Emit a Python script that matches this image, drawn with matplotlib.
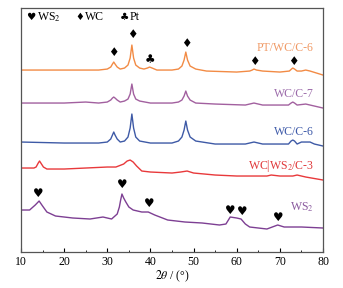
import matplotlib
matplotlib.use('Agg')
import matplotlib.pyplot as plt
from matplotlib.ticker import MultipleLocator

plt.rcParams['font.family'] = ['Liberation Serif', 'DejaVu Sans']
plt.rcParams['mathtext.fontset'] = 'stix'

# 2theta positions and intensities (arb. units, stacked)
x_pt = [10, 20, 28, 30, 30.8, 31.2, 31.5, 31.8, 32.3, 33, 34, 34.8, 35.3, 35.7, 36.1, 36.6, 37.5,
        38.5, 39.3, 39.8, 40.4, 41.5, 45, 46.5, 47.3, 47.8, 48.2, 48.6, 49.2, 50.5, 53, 60, 63,
        63.6, 64, 64.6, 66, 70, 72.2, 72.7, 73, 73.4, 74, 75, 76, 77, 80]
y_pt = [182, 182, 182, 183, 185, 188, 190, 188, 185, 183, 184, 187, 194, 207, 194, 187, 184,
        183, 184, 185, 184, 182, 182, 183, 186, 192, 200, 192, 186, 183, 181, 180, 181,
        182, 183, 182, 181, 180, 181, 183, 184, 183, 181, 181, 182, 181, 177]

x_wc7 = [10, 20, 25, 28, 30, 30.8, 31.2, 31.5, 31.8, 32.3, 33, 34, 34.8, 35.3, 35.7, 36.1, 36.6,
         37.5, 40, 45, 46.5, 47.3, 47.8, 48.2, 48.6, 49.2, 50.5, 55, 62, 64, 66, 72, 72.6, 73,
         73.4, 74, 76, 78, 80]
y_wc7 = [149, 149, 150, 149, 150, 152, 154, 155, 154, 152, 150, 151, 153, 158, 168, 158, 153,
         151, 149, 149, 150, 152, 156, 161, 156, 152, 149, 148, 147, 149, 147, 147, 149, 150,
         149, 147, 148, 146, 144]

x_wc6 = [10, 20, 28, 30, 30.8, 31.2, 31.5, 31.8, 32.3, 33, 34, 34.8, 35.3, 35.7, 36.1, 36.6,
         37.5, 40, 45, 46.5, 47.3, 47.8, 48.2, 48.6, 49.2, 50.5, 55, 62, 64, 66, 72, 72.6, 73,
         73.4, 74, 75, 77, 78, 80]
y_wc6 = [110, 109, 109, 110, 113, 117, 120, 117, 113, 110, 111, 115, 124, 138, 124, 115,
         111, 109, 109, 111, 115, 122, 131, 122, 115, 111, 108, 108, 110, 108, 108, 111, 112,
         111, 108, 110, 110, 108, 106]

x_wcws = [10, 13, 13.5, 14, 14.3, 14.6, 15.2, 16, 20, 25, 30, 32, 33.8, 34.6, 35.3, 36, 36.8,
          38, 40, 45, 47, 48.5, 50, 55, 60, 67, 68, 70, 73, 74, 76, 80]
y_wcws = [84, 84, 85, 89, 91, 89, 85, 83, 83, 84, 85, 85, 88, 91, 92, 90, 86,
          81, 80, 79, 80, 81, 79, 77, 76, 76, 77, 76, 76, 77, 75, 72]

x_ws2 = [10, 12, 13.3, 14.2, 15, 16, 18, 22, 26, 29, 31, 32.3, 32.8, 33.1, 33.4, 33.8, 34.3,
         35, 36, 38, 39.5, 41, 44, 48, 52, 56, 57.5, 58.5, 60, 61, 62, 63, 67, 69.5, 71, 75, 80]
y_ws2 = [42, 42, 47, 51, 46, 40, 36, 34, 33, 35, 33, 38, 45, 52, 58, 54, 50,
         45, 42, 40, 40, 37, 32, 30, 29, 27, 28, 35, 34, 33, 28, 25, 23, 27, 25, 25, 24]

labels = ['PT/WC/C-6', 'WC/C-7', 'WC/C-6', r'WC|WS$_2$/C-3', r'WS$_2$']
label_y = [204, 158, 120, 86, 45]
line_colors = ['#F28B45', '#A2609F', '#3E5AA6', '#E8393B', '#7D3F93']
text_colors = ['#F09A66', '#9C6BAA', '#3E5AA9', '#E0383A', '#8A5A9E']

# phase markers
wc_x = [31.5, 35.7, 48.2, 64, 73]
wc_y = [200, 217.5, 208.5, 190.5, 190.5]
pt_x = [39.8]
pt_y = [192.5]
ws_x = [14, 33.5, 39.7, 58.5, 61.2, 69.6]
ws_y = [58.7, 67.7, 48.7, 42, 40.3, 34.7]

fig = plt.figure(figsize=(3.43, 2.88), dpi=100)
ax = fig.add_axes([0.0612, 0.125, 0.8805, 0.847])

series = [(x_pt, y_pt), (x_wc7, y_wc7), (x_wc6, y_wc6), (x_wcws, y_wcws), (x_ws2, y_ws2)]
for (xs, ys), c in zip(series, line_colors):
    ax.plot(xs, ys, color=c, lw=1.0)

for lab, ly, c in zip(labels, label_y, text_colors):
    ax.text(77.9, ly, lab, color=c, fontsize=8.5, ha='right', va='center')

for x, y in zip(wc_x, wc_y):
    ax.text(x, y, '\u2666', fontsize=8.5, ha='center', va='center', family='DejaVu Sans')
for x, y in zip(pt_x, pt_y):
    ax.text(x, y, '\u2663', fontsize=8.5, ha='center', va='center', family='DejaVu Sans')
for x, y in zip(ws_x, ws_y):
    ax.text(x, y, '\u2665', fontsize=8.5, ha='center', va='center', family='DejaVu Sans')

# key at top left
ax.text(11.1, 235, '\u2665', fontsize=7.5, va='center', family='DejaVu Sans')
ax.text(13.6, 235, r'WS$_2$', fontsize=8.5, va='center')
ax.text(22.5, 235, '\u2666', fontsize=7, va='center', family='DejaVu Sans')
ax.text(24.9, 235, 'WC', fontsize=8.5, va='center')
ax.text(33.0, 235, '\u2663', fontsize=7.5, va='center', family='DejaVu Sans')
ax.text(35.2, 235, 'Pt', fontsize=8.5, va='center')

ax.set_xlim(10, 80)
ax.set_ylim(0, 244)
ax.set_yticks([])
ax.xaxis.set_major_locator(MultipleLocator(10))
ax.xaxis.set_minor_locator(MultipleLocator(5))
ax.tick_params(axis='x', which='major', direction='in', length=3, labelsize=8.5, pad=3)
ax.tick_params(axis='x', which='minor', direction='in', length=1.5)
ax.set_xlabel(r'$2\theta$ / (°)', fontsize=8.5, labelpad=0)
for s in ax.spines.values():
    s.set_color('#555555')
    s.set_linewidth(0.9)

fig.savefig('out.png', dpi=100)
